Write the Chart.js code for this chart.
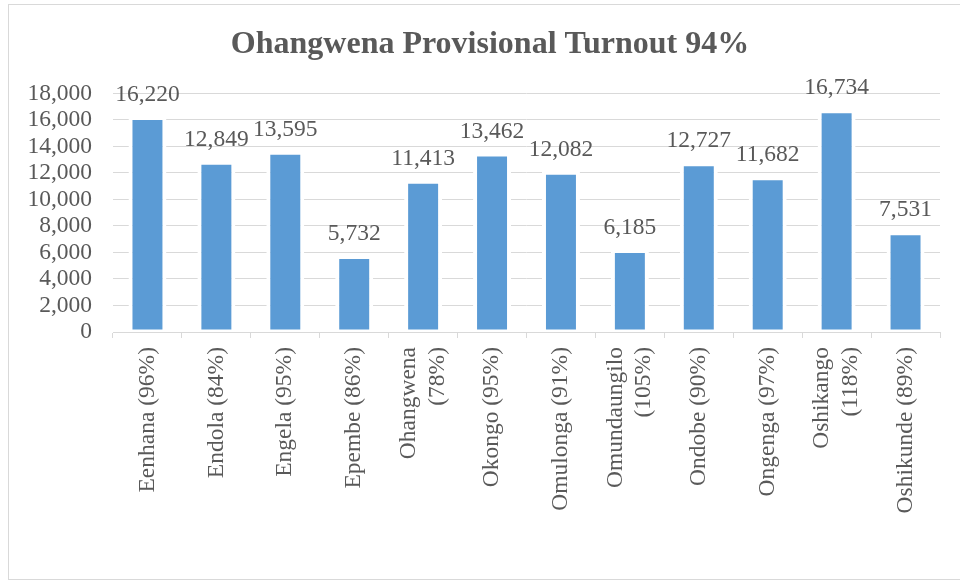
<!DOCTYPE html>
<html>
<head>
<meta charset="utf-8">
<title>Ohangwena Provisional Turnout</title>
<script src="https://cdn.jsdelivr.net/npm/chart.js@4/dist/chart.umd.min.js"></script>
<style>
  html, body { margin: 0; padding: 0; background: #fff; }
  #frame { position: absolute; left: 8px; top: 4px; width: 960px; height: 574px; border: 1px solid #d9d9d9; border-right: none; }
  #chart { position: absolute; left: 0; top: 0; }
</style>
</head>
<body>
<div id="frame"></div>
<canvas id="chart" width="960" height="580"></canvas>
<script>
// ── data ──
const constituencies = [
  'Eenhana (96%)', 'Endola (84%)', 'Engela (95%)', 'Epembe (86%)',
  ['Ohangwena', '(78%)'], 'Okongo (95%)', 'Omulonga (91%)', ['Omundaungilo', '(105%)'],
  'Ondobe (90%)', 'Ongenga (97%)', ['Oshikango', '(118%)'], 'Oshikunde (89%)'
];
const turnout = [16220, 12849, 13595, 5732, 11413, 13462, 12082, 6185, 12727, 11682, 16734, 7531];
const yTicks = [0, 2000, 4000, 6000, 8000, 10000, 12000, 14000, 16000, 18000];

const TXT = '#595959', GRID = '#d9d9d9', BLUE = '#5b9bd5';
const SERIF = '"Liberation Serif", "Times New Roman", serif';
const fmt = v => Number(v).toLocaleString('en-US');

Chart.defaults.font.family = SERIF;
Chart.defaults.color = TXT;

// value labels above each bar
const barLabels = {
  id: 'barLabels',
  afterDatasetsDraw(chart) {
    const ctx = chart.ctx;
    const meta = chart.getDatasetMeta(0);
    ctx.save();
    ctx.font = '23.5px ' + SERIF;
    ctx.fillStyle = TXT;
    ctx.textAlign = 'center';
    ctx.textBaseline = 'alphabetic';
    meta.data.forEach((bar, i) => ctx.fillText(fmt(turnout[i]), bar.x, bar.y - 16));
    ctx.restore();
  }
};

// small layout tweaks: title nudged right, wrapped tick labels centred on their tick
const tweaks = {
  id: 'tweaks',
  afterLayout(chart) {
    if (chart.titleBlock) chart.titleBlock.left += 20;
  },
  beforeDraw(chart) {
    const items = chart.scales.x.getLabelItems();
    items.forEach(it => {
      if (Array.isArray(it.label) && !it._centred) {
        it.textOffset -= it.font.lineHeight * (it.label.length - 1) / 2;
        it._centred = true;
      }
    });
  }
};

new Chart(document.getElementById('chart'), {
  type: 'bar',
  data: {
    labels: constituencies,
    datasets: [{
      data: turnout,
      backgroundColor: BLUE,
      borderColor: '#ffffff',
      borderWidth: { top: 3, left: 4, right: 4, bottom: 2 },
      borderSkipped: false,
      barPercentage: 0.551,
      categoryPercentage: 1
    }]
  },
  options: {
    responsive: false,
    animation: false,
    devicePixelRatio: 1,
    layout: { padding: { left: 20, right: 20, top: 0, bottom: 0 } },
    plugins: {
      legend: { display: false },
      tooltip: { enabled: false },
      title: {
        display: true,
        text: 'Ohangwena Provisional Turnout 94%',
        color: TXT,
        font: { size: 32, weight: 'bold', lineHeight: 1.2 },
        padding: { top: 26, bottom: 29 }
      }
    },
    scales: {
      x: {
        z: 1,
        grid: { drawOnChartArea: false, drawTicks: true, tickLength: 6, color: GRID },
        border: { color: GRID },
        ticks: {
          color: TXT, autoSkip: false, minRotation: 90, maxRotation: 90, padding: 9,
          font: { size: 23.5, lineHeight: 1.22 }
        },
        afterFit: s => { s.height = 248; }
      },
      y: {
        min: yTicks[0], max: yTicks[yTicks.length - 1],
        grid: { color: GRID, drawTicks: false },
        border: { display: false },
        ticks: {
          color: TXT, padding: 21, autoSkip: false, stepSize: yTicks[1] - yTicks[0],
          font: { size: 23.5 }, callback: v => fmt(v)
        },
        afterFit: s => { s.width = 93; }
      }
    }
  },
  plugins: [barLabels, tweaks]
});
</script>
</body>
</html>
